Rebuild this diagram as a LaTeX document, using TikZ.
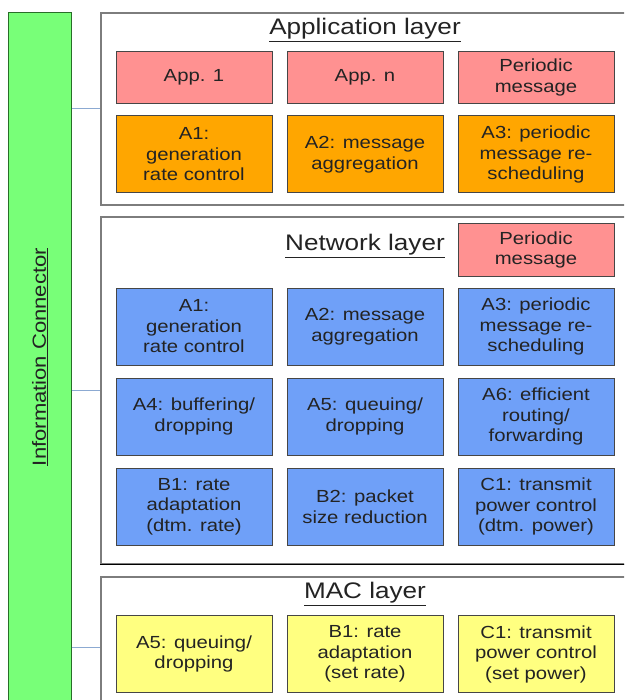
\documentclass[tikz,border=0pt]{standalone}
\usepackage{fontspec}
\setmainfont{Liberation Sans}[FakeStretch=1.16]
\usetikzlibrary{positioning}

\definecolor{apppink}{RGB}{255,145,145}
\definecolor{apporange}{RGB}{255,166,0}
\definecolor{netblue}{RGB}{111,160,248}
\definecolor{macyellow}{RGB}{255,255,128}
\definecolor{infogreen}{RGB}{120,255,120}
\definecolor{infoborder}{RGB}{40,110,40}
\definecolor{boxgray}{RGB}{70,70,70}
\definecolor{layergray}{RGB}{125,125,125}
\definecolor{textgray}{RGB}{35,35,35}
\definecolor{linkblue}{RGB}{140,170,210}

\begin{document}
\begin{tikzpicture}
	[x=1pt, y=-1pt, on grid, node distance=90pt and 171pt,
	 font=\fontsize{17.5}{20.5}\selectfont, text=textgray,
	 block/.style={draw=boxgray, line width=1pt, minimum width=156pt,
	   minimum height=77pt, align=center, inner sep=0pt},
	 short/.style={block, minimum height=52pt},
	 layer/.style={draw=layergray, line width=1.5pt, fill=white, inner sep=0pt},
	 title/.style={font=\fontsize{22.5}{26}\selectfont, text=textgray},
	 link/.style={draw=linkblue, line width=1pt}]
   \clip (0,0) rectangle (624,700);
   \fill[white] (0,0) rectangle (624,700);

   % info connector and layer frames
   \node[draw=infoborder, fill=infogreen, line width=1pt, minimum width=63pt,
     minimum height=700pt, inner sep=0pt] (info) at (39.5,363) {};
   \node[rotate=90, font=\fontsize{19}{22}\selectfont] (info_t) at (40,357)
     {\underline{Information Connector}};
   \node[layer, minimum width=540pt, minimum height=192pt] (app_layer) at (371,109) {};
   \node[layer, minimum width=540pt, minimum height=347pt] (net_layer) at (371,390.5) {};
   \draw[black, line width=1.2pt] (net_layer.south west) -- (net_layer.south east);
   \node[layer, minimum width=540pt, minimum height=140pt] (mac_layer) at (371,647) {};

   \node[title] (app_t) at (365,30) {\underline{Application layer}};
   \node[title] (net_t) at (365,246) {\underline{Network layer}};
   \node[title] (mac_t) at (365,594) {\underline{MAC layer}};

   % application layer
   \node[short, fill=apppink] (app_1) at (194,77.5) {App. 1};
   \node[short, fill=apppink] (app_n) [right=of app_1] {App. n};
   \node[short, fill=apppink] (app_p) [right=of app_n] {Periodic\\message};
   \node[block, fill=apporange] (app_a1) at (194,154.5) {A1:\\generation\\rate control};
   \node[block, fill=apporange] (app_a2) [right=of app_a1] {A2: message\\aggregation};
   \node[block, fill=apporange] (app_a3) [right=of app_a2] {A3: periodic\\message re-\\scheduling};

   % network layer
   \node[short, fill=apppink] (net_p) at (536,250) {Periodic\\message};
   \node[block, fill=netblue] (net_a1) at (194,326.5) {A1:\\generation\\rate control};
   \node[block, fill=netblue] (net_a2) [right=of net_a1] {A2: message\\aggregation};
   \node[block, fill=netblue] (net_a3) [right=of net_a2] {A3: periodic\\message re-\\scheduling};
   \node[block, fill=netblue] (net_a4) [below=of net_a1] {A4: buffering/\\dropping};
   \node[block, fill=netblue] (net_a5) [right=of net_a4] {A5: queuing/\\dropping};
   \node[block, fill=netblue] (net_a6) [right=of net_a5] {A6: efficient\\routing/\\forwarding};
   \node[block, fill=netblue] (net_b1) [below=of net_a4] {B1: rate\\adaptation\\(dtm. rate)};
   \node[block, fill=netblue] (net_b2) [right=of net_b1] {B2: packet\\size reduction};
   \node[block, fill=netblue] (net_c1) [right=of net_b2] {C1: transmit\\power control\\(dtm. power)};

   % MAC layer
   \node[block, fill=macyellow] (mac_a5) at (194,654) {A5: queuing/\\dropping};
   \node[block, fill=macyellow] (mac_b1) [right=of mac_a5] {B1: rate\\adaptation\\(set rate)};
   \node[block, fill=macyellow] (mac_c1) [right=of mac_b1] {C1: transmit\\power control\\(set power)};

   % links to the connector
   \path[link] (info.east |- app_layer.west) -- (app_layer.west);
   \path[link] (info.east |- net_layer.west) -- (net_layer.west);
   \path[link] (info.east |- mac_layer.west) -- (mac_layer.west);
\end{tikzpicture}
\end{document}
